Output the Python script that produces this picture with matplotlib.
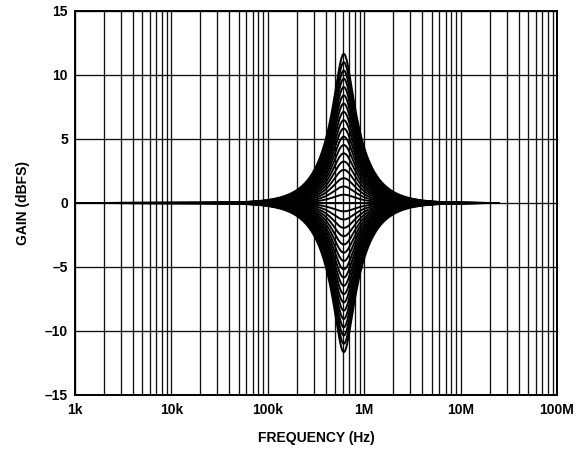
import numpy as np
import matplotlib
matplotlib.use("Agg")
import matplotlib.pyplot as plt
from matplotlib.ticker import FixedLocator, NullFormatter

# ---- data ----
sample_rate_hz = 49.152e6
center_freq_hz = 614.4e3
q_factor = 1.33
f_start_hz = 1e3
f_stop_hz = 24.5e6
boost_gains_db = [0.0, 0.65, 1.29, 1.94, 2.59, 3.24, 3.88, 4.53, 5.18, 5.82,
                  6.47, 7.12, 7.77, 8.41, 9.06, 9.71, 10.35, 11.0, 11.65]
cut_gains_db = [-0.65, -1.29, -1.94, -2.59, -3.24, -3.88, -4.53, -5.18, -5.82,
                -6.47, -7.12, -7.77, -8.41, -9.06, -9.71, -10.35, -11.0, -11.65]
x_tick_values = [1e3, 1e4, 1e5, 1e6, 1e7, 1e8]
x_tick_labels = ["1k", "10k", "100k", "1M", "10M", "100M"]
y_tick_values = [-15, -10, -5, 0, 5, 10, 15]
y_tick_labels = ["\u201315", "\u201310", "\u20135", "0", "5", "10", "15"]


def peaking_response_db(freqs, gain_db, f0, q, fs):
    A = 10 ** (gain_db / 40.0)
    w0 = 2 * np.pi * f0 / fs
    alpha = np.sin(w0) / (2 * q)
    b = np.array([1 + alpha * A, -2 * np.cos(w0), 1 - alpha * A])
    a = np.array([1 + alpha / A, -2 * np.cos(w0), 1 - alpha / A])
    z = np.exp(-1j * 2 * np.pi * freqs / fs)
    num = b[0] + b[1] * z + b[2] * z ** 2
    den = a[0] + a[1] * z + a[2] * z ** 2
    return 20 * np.log10(np.abs(num / den))


plt.rcParams['font.family'] = ['Liberation Sans', 'DejaVu Sans']
fig = plt.figure(figsize=(5.88, 4.51), dpi=100)
ax = fig.add_axes([75 / 588, 1 - 395 / 451, (557 - 75) / 588, (395 - 11) / 451])

freqs = np.logspace(np.log10(f_start_hz), np.log10(f_stop_hz), 2000)
for g in boost_gains_db + cut_gains_db:
    ax.plot(freqs, peaking_response_db(freqs, g, center_freq_hz, q_factor, sample_rate_hz),
            color='black', lw=1.4, zorder=3)

ax.set_xscale('log')
ax.set_xlim(1e3, 1e8)
ax.set_ylim(-15, 15)

minor = [m * 10 ** e for e in range(3, 8) for m in range(2, 10)]
ax.xaxis.set_major_locator(FixedLocator(x_tick_values))
ax.xaxis.set_minor_locator(FixedLocator(minor))
ax.xaxis.set_minor_formatter(NullFormatter())
ax.set_xticks(x_tick_values)
ax.set_xticklabels(x_tick_labels, fontsize=10, fontweight='bold')
ax.set_yticks(y_tick_values)
ax.set_yticklabels(y_tick_labels, fontsize=10, fontweight='bold')
ax.tick_params(which='both', length=0)
ax.tick_params(axis='x', pad=6)
ax.tick_params(axis='y', pad=5)

ax.grid(True, which='major', color='#111111', lw=0.95, zorder=1)
ax.grid(True, which='minor', axis='x', color='#111111', lw=0.95, zorder=1)
for s in ax.spines.values():
    s.set_linewidth(1.4)
    s.set_color('black')

ax.set_xlabel("FREQUENCY (Hz)", fontsize=10, fontweight='bold', labelpad=10)
ax.set_ylabel("GAIN (dBFS)", fontsize=10, fontweight='bold', labelpad=11)

fig.savefig("out.png", dpi=100)
